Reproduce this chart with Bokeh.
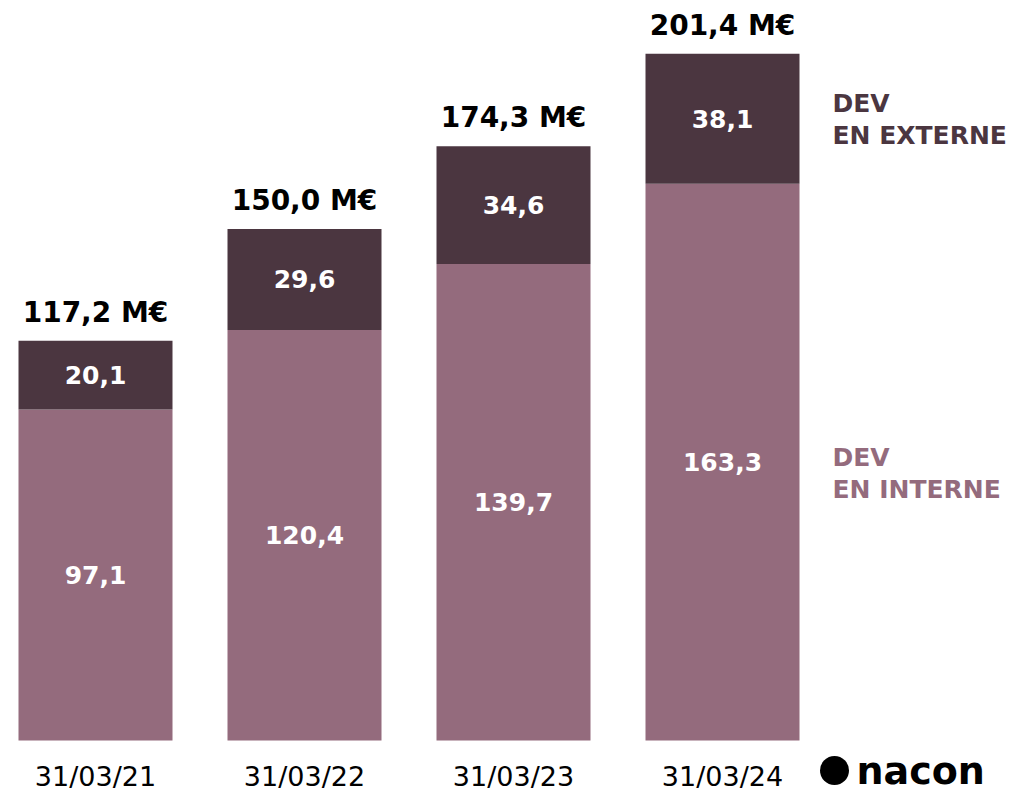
from bokeh.plotting import figure
from bokeh.models import ColumnDataSource, Range1d
from bokeh.core.properties import value
from bokeh.embed import file_html
from bokeh.resources import INLINE

categories = ["31/03/21", "31/03/22", "31/03/23", "31/03/24"]
interne = [97.1, 120.4, 139.7, 163.3]
externe = [20.1, 29.6, 34.6, 38.1]

DARK = "#4b3640"
LIGHT = "#946b7d"
FONT = "DejaVu Sans"

def fr(v):
    return f"{v:.1f}".replace(".", ",")

xs = list(range(len(categories)))
totals = [a + b for a, b in zip(interne, externe)]
src = ColumnDataSource(dict(
    x=xs,
    interne=interne,
    externe=externe,
    top=totals,
    mid_in=[v / 2 for v in interne],
    mid_ex=[a + b / 2 for a, b in zip(interne, externe)],
    lab_in=[fr(v) for v in interne],
    lab_ex=[fr(v) for v in externe],
    lab_tot=[fr(v) + " M€" for v in totals],
    cat=categories,
    zero=[0] * len(xs),
))

W, H = 1008, 792
pxx = 209.0
pxy = 3.41
x0 = -95 / pxx
y0 = -52 / pxy
p = figure(width=W, height=H, output_backend="svg", toolbar_location=None,
           x_range=Range1d(x0, x0 + W / pxx), y_range=Range1d(y0, y0 + H / pxy),
           min_border=0, outline_line_color=None)
p.axis.visible = False
p.grid.visible = False

bw = 154 / pxx
p.vbar(x="x", bottom="zero", top="interne", width=bw, source=src,
       fill_color=LIGHT, line_color=None)
p.vbar(x="x", bottom="interne", top="top", width=bw, source=src,
       fill_color=DARK, line_color=None)

p.text(x="x", y="mid_in", text="lab_in", source=src, text_align="center",
       text_baseline="middle", text_color="white", text_font=value(FONT),
       text_font_style="bold", text_font_size="25px")
p.text(x="x", y="mid_ex", text="lab_ex", source=src, text_align="center",
       text_baseline="middle", text_color="white", text_font=value(FONT),
       text_font_style="bold", text_font_size="25px")
p.text(x="x", y="top", text="lab_tot", source=src, text_align="center",
       text_baseline="bottom", y_offset=-12, text_color="black",
       text_font=value(FONT), text_font_style="bold", text_font_size="28px")
p.text(x="x", y="zero", text="cat", source=src, text_align="center",
       text_baseline="middle", y_offset=36, text_color="black",
       text_font=value(FONT), text_font_size="27px")

lx = 832 / pxx + x0
legend_src = ColumnDataSource(dict(
    x=[lx, lx],
    y=[182.1, 78.3],
    t=["DEV\nEN EXTERNE", "DEV\nEN INTERNE"],
    c=[DARK, LIGHT],
))
p.text(x="x", y="y", text="t", source=legend_src, text_align="left",
       text_baseline="middle", text_color="c", text_font=value(FONT),
       text_font_style="bold", text_font_size="25px", text_line_height=1.1)

# logo
p.text(x=[856 / pxx + x0], y=[0], text=["nacon"], text_align="left",
       text_baseline="middle", y_offset=30, text_color="black",
       text_font=value(FONT), text_font_style="bold", text_font_size="38px")
p.scatter(x=[834 / pxx + x0], y=[-8.8], size=29,
          fill_color="black", line_color=None)

open("out.html", "w").write(file_html(p, INLINE))
